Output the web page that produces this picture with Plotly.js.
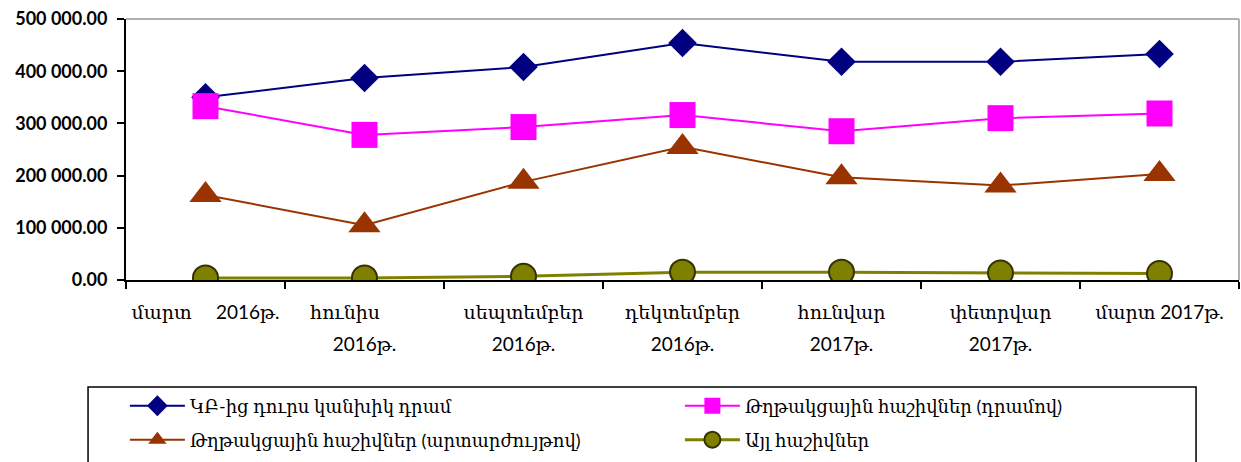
<!DOCTYPE html>
<html><head><meta charset="utf-8">
<script src="https://cdn.plot.ly/plotly-3.0.1.min.js"></script>
<style>html,body{margin:0;padding:0;background:#fff}#chart{width:1241px;height:462px}</style>
</head><body><div id="chart"></div>
<script>
const categories = ["մարտ 2016", "հունիս 2016", "սեպտեմբեր 2016", "դեկտեմբեր 2016",
                    "հունվար 2017", "փետրվար 2017", "մարտ 2017"];
const tickLine1 = [
  "մարտ\u00a0\u00a0\u00a0\u00a0\u00a02016թ.",
  "հունիս" + "\u00a0".repeat(8),
  "սեպտեմբեր",
  "դեկտեմբեր",
  "հունվար",
  "փետրվար",
  "մարտ 2017թ."
];
const tickLine2 = ["", "2016թ.", "2016թ.", "2016թ.", "2017թ.", "2017թ.", ""];
const seriesNames = [
  "ԿԲ-ից դուրս կանխիկ դրամ",
  "Թղթակցային հաշիվներ (դրամով)",
  "Թղթակցային հաշիվներ (արտարժույթով)",
  "Այլ հաշիվներ"
];
const cashOutside = [350000, 387000, 408000, 454000, 418000, 418000, 433000];
const corrAMD = [333000, 278000, 293000, 316000, 285000, 310000, 319000];
const corrFX = [163000, 105000, 188000, 255000, 197000, 181000, 203000];
const otherAcc = [4000, 4000, 7000, 15000, 15000, 13500, 12500];
const yTicks = [0, 100000, 200000, 300000, 400000, 500000];
const yTickText = ["0.00", "100 000.00", "200 000.00", "300 000.00", "400 000.00", "500 000.00"];

const armFont = "Lato, 'DejaVu Serif', serif";

const traces = [
  {x: categories, y: cashOutside, name: seriesNames[0], mode: "lines+markers", legend: "legend",
   line: {color: "#000080", width: 2},
   marker: {symbol: "diamond", size: 22, color: "#000080"}},
  {x: categories, y: corrAMD, name: seriesNames[1], mode: "lines+markers", legend: "legend",
   line: {color: "#FF00FF", width: 2},
   marker: {symbol: "square", size: 26, color: "#FF00FF"}},
  {x: categories, y: corrFX, name: seriesNames[2], mode: "lines+markers", legend: "legend2",
   line: {color: "#993300", width: 2},
   marker: {symbol: "triangle-up", size: 28, color: "#993300"}},
  {x: categories, y: otherAcc, name: seriesNames[3], mode: "lines+markers", legend: "legend2",
   line: {color: "#808000", width: 3},
   marker: {symbol: "circle", size: 25, color: "#808000", line: {color: "#333300", width: 2}}},
  {x: categories, y: categories.map(() => null), xaxis: "x2", mode: "markers",
   showlegend: false, hoverinfo: "skip"}
];

const legendCommon = {
  orientation: "h",
  x: -0.001, xanchor: "left",
  yanchor: "top",
  borderwidth: 0,
  bgcolor: "rgba(0,0,0,0)",
  itemwidth: 55,
  entrywidth: 485, entrywidthmode: "pixels",
  font: {family: armFont, size: 18, color: "#000"},
  traceorder: "normal"
};

const layout = {
  width: 1241, height: 462,
  margin: {l: 126, r: 2, t: 19, b: 182, autoexpand: false},
  paper_bgcolor: "#fff", plot_bgcolor: "#fff",
  showlegend: true,
  font: {family: armFont, color: "#000", size: 17},
  xaxis: {
    type: "category", range: [-0.5, 6.5],
    categoryorder: "array", categoryarray: categories,
    tickvals: categories, ticktext: tickLine1,
    showline: true, linecolor: "#000", linewidth: 2,
    ticks: "outside", tickson: "boundaries", ticklen: 7, tickwidth: 2, tickcolor: "#000",
    showgrid: false, zeroline: false,
    tickfont: {family: armFont, size: 19, color: "#000"},
    ticklabelstandoff: 14,
    tickangle: 0
  },
  xaxis2: {
    type: "category", range: [-0.5, 6.5], overlaying: "x", anchor: "y", side: "bottom",
    categoryorder: "array", categoryarray: categories,
    tickvals: categories, ticktext: tickLine2,
    showline: false, ticks: "", showgrid: false, zeroline: false,
    tickfont: {family: armFont, size: 19, color: "#000"},
    ticklabelstandoff: 51,
    tickangle: 0
  },
  yaxis: {
    range: [0, 500000],
    tickvals: yTicks, ticktext: yTickText,
    showline: true, linecolor: "#000", linewidth: 2,
    ticks: "outside", ticklen: 7, tickwidth: 2, tickcolor: "#000",
    showgrid: false, zeroline: false,
    ticklabelstandoff: 6,
    tickfont: {family: "Lato, sans-serif", size: 18, color: "#000", weight: "bold"}
  },
  legend: Object.assign({}, legendCommon, {y: -0.412}),
  legend2: Object.assign({}, legendCommon, {y: -0.542}),
  shapes: [
    {type: "line", xref: "paper", yref: "paper", x0: 0, x1: 1, y0: 1, y1: 1,
     line: {color: "#b0b0b0", width: 2}},
    {type: "line", xref: "paper", yref: "paper", x0: 1, x1: 1, y0: 0, y1: 1,
     line: {color: "#b0b0b0", width: 2}},
    {type: "rect", xref: "paper", yref: "paper", x0: -0.0341, x1: 0.9614, y0: -0.41, y1: -0.75,
     line: {color: "#000", width: 1.5}, fillcolor: "rgba(0,0,0,0)"}
  ]
};

Plotly.newPlot("chart", traces, layout, {displayModeBar: false, staticPlot: true});
</script>
</body></html>
